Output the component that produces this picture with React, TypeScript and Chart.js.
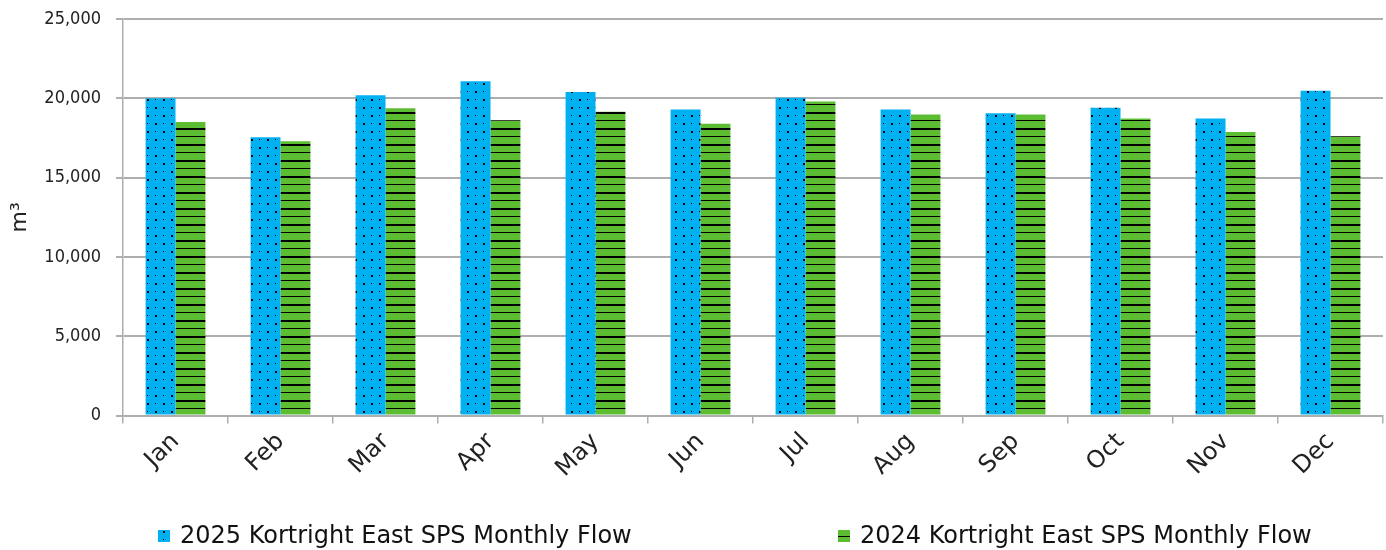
import React, { useEffect, useRef } from "react";
import { Chart, registerables } from "chart.js";

Chart.register(...registerables);

const months = ["Jan", "Feb", "Mar", "Apr", "May", "Jun", "Jul", "Aug", "Sep", "Oct", "Nov", "Dec"];
const flow2025 = [20000, 17550, 20200, 21080, 20390, 19300, 20030, 19300, 19065, 19400, 18730, 20470];
const flow2024 = [18500, 17300, 19380, 18620, 19150, 18390, 19800, 18980, 18980, 18730, 17870, 17610];
const label2025 = "2025 Kortright East SPS Monthly Flow";
const label2024 = "2024 Kortright East SPS Monthly Flow";
const yTicks = [0, 5000, 10000, 15000, 20000, 25000];

const FONT = "'DejaVu Sans', Verdana, sans-serif";
const FONT_COND = "'DejaVu Sans Condensed', 'DejaVu Sans', sans-serif";
const BLUE = "#00b0f0";
const GREEN = "#5cbd33";
const GRID = "#aeaeae";

function makeDots(): CanvasPattern | string {
  const c = document.createElement("canvas");
  c.width = 16;
  c.height = 16;
  const ctx = c.getContext("2d");
  if (!ctx) return BLUE;
  ctx.fillStyle = BLUE;
  ctx.fillRect(0, 0, 16, 16);
  ctx.fillStyle = "#000";
  ctx.fillRect(3, 3, 2, 2);
  ctx.fillRect(11, 3, 1, 1);
  ctx.fillRect(3, 11, 1, 1);
  ctx.fillRect(11, 11, 2, 2);
  return ctx.createPattern(c, "repeat") || BLUE;
}

function makeStripes(): CanvasPattern | string {
  const c = document.createElement("canvas");
  c.width = 8;
  c.height = 16;
  const ctx = c.getContext("2d");
  if (!ctx) return GREEN;
  ctx.fillStyle = GREEN;
  ctx.fillRect(0, 0, 8, 16);
  ctx.fillStyle = "#000";
  ctx.fillRect(0, 0, 8, 2);
  ctx.fillRect(0, 8, 8, 1);
  return ctx.createPattern(c, "repeat") || GREEN;
}

export default function App() {
  const ref = useRef<HTMLCanvasElement>(null);

  useEffect(() => {
    document.body.style.margin = "0";
    const canvas = ref.current;
    if (!canvas) return;
    const dots = makeDots();
    const stripes = makeStripes();

    const legendPlugin = {
      id: "customLegend",
      afterDraw(chart: any) {
        const ctx = chart.ctx;
        const area = chart.chartArea;
        const y = chart.height - 14;
        const items = [
          { x: area.left + 35, fill: dots, text: label2025 },
          { x: area.left + 715, fill: stripes, text: label2024 },
        ];
        ctx.save();
        ctx.font = `24px ${FONT}`;
        ctx.textBaseline = "middle";
        ctx.textAlign = "left";
        for (const it of items) {
          ctx.fillStyle = it.fill as any;
          ctx.fillRect(it.x, y - 6, 12, 12);
          ctx.fillStyle = "#111";
          ctx.fillText(it.text, it.x + 22, y + 1);
        }
        ctx.restore();
      },
    };

    const chart = new Chart(canvas, {
      type: "bar",
      data: {
        labels: months,
        datasets: [
          {
            label: label2025,
            data: flow2025,
            backgroundColor: dots as any,
            borderWidth: 0,
            barPercentage: 1,
            categoryPercentage: 0.57,
          },
          {
            label: label2024,
            data: flow2024,
            backgroundColor: stripes as any,
            borderWidth: 0,
            barPercentage: 1,
            categoryPercentage: 0.57,
          },
        ],
      },
      options: {
        responsive: false,
        animation: false,
        layout: { padding: { left: 4, right: 3, top: 19, bottom: 63 } },
        plugins: {
          legend: { display: false },
          tooltip: { enabled: false },
        },
        scales: {
          x: {
            grid: {
              offset: true,
              drawOnChartArea: false,
              drawTicks: true,
              tickLength: 8,
              color: GRID,
              lineWidth: 1.5,
            },
            border: { color: GRID, width: 1.5 },
            ticks: {
              color: "#222",
              font: { family: FONT, size: 24 },
              minRotation: 45,
              maxRotation: 45,
              padding: 4,
            },
          },
          y: {
            min: 0,
            max: 25000,
            afterBuildTicks(axis: any) {
              axis.ticks = yTicks.map((v) => ({ value: v }));
            },
            afterFit(axis: any) {
              axis.width = 119;
              axis.paddingTop = 0;
            },
            grid: {
              color: GRID,
              lineWidth: 2,
              drawTicks: true,
              tickLength: 7,
            },
            border: { color: GRID, width: 1.5 },
            ticks: {
              color: "#222",
              font: { family: FONT_COND, size: 18 },
              padding: 15,
              callback: (v: any) => Number(v).toLocaleString("en-US"),
            },
            title: {
              display: true,
              text: "m³",
              color: "#222",
              font: { family: FONT, size: 22 },
              padding: { top: 3, bottom: 4 },
            },
          },
        },
      },
      plugins: [legendPlugin],
    });
    return () => chart.destroy();
  }, []);

  return (
    <div style={{ width: 1386, height: 550 }}>
      <canvas ref={ref} width={1386} height={550} style={{ display: "block" }} />
    </div>
  );
}
